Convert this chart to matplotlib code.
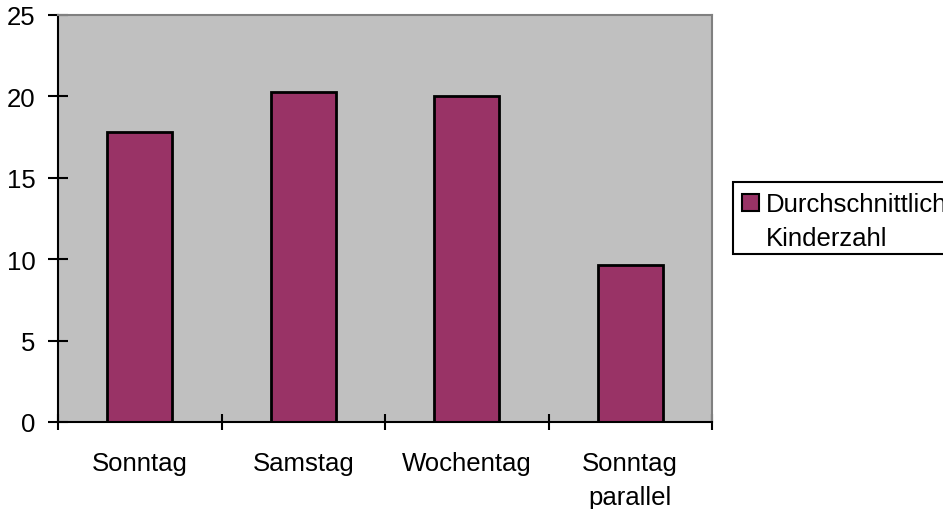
import matplotlib.pyplot as plt
from matplotlib.patches import Rectangle
import numpy as np

plt.rcParams['font.family'] = ['Liberation Sans', 'DejaVu Sans']

kategorien = ["Sonntag", "Samstag", "Wochentag", "Sonntag\nparallel"]
kinderzahl = [17.8, 20.3, 20.0, 9.65]
legende = "Durchschnittliche\nKinderzahl"
y_ticks = [0, 5, 10, 15, 20, 25]

W, H = 943, 510
FS = 18.5
fig = plt.figure(figsize=(W / 100, H / 100), dpi=100)

# Plotbereich in Pixeln
left, right, top, bottom = 58, 712, 16, 423
ax = fig.add_axes([left / W, (H - bottom) / H, (right - left) / W, (bottom - top) / H])
ax.set_facecolor("#C0C0C0")

x = np.arange(len(kategorien))
ax.bar(x, kinderzahl, width=0.4, color="#993366", edgecolor="black", linewidth=2, zorder=2)

ax.set_xlim(-0.5, len(kategorien) - 0.5)
ax.set_ylim(0, 25)
ax.set_yticks(y_ticks)
ax.set_yticklabels([str(t) for t in y_ticks], fontsize=FS)
ax.tick_params(axis="y", direction="inout", length=14, width=1.5, pad=9)

ax.set_xticks(x)
ax.set_xticklabels(kategorien, fontsize=FS, linespacing=1.5, va="top")
ax.tick_params(axis="x", which="major", length=0, pad=21)
ax.set_xticks(np.arange(len(kategorien) + 1) - 0.5, minor=True)
ax.tick_params(axis="x", which="minor", direction="inout", length=12, width=1.5)

for s in ["left", "bottom"]:
    ax.spines[s].set_color("black")
    ax.spines[s].set_linewidth(1.5)
for s in ["top", "right"]:
    ax.spines[s].set_color("#808080")
    ax.spines[s].set_linewidth(1.5)

# Legende rechts, läuft über den Bildrand hinaus
def px(xp, yp):
    return xp / W, (H - yp) / H

bx, by = px(733, 255)
fig.patches.append(Rectangle((bx, by), (960 - 733) / W, (255 - 183) / H,
                             transform=fig.transFigure, facecolor="white",
                             edgecolor="black", linewidth=1.5))
mx, my = px(742, 212)
fig.patches.append(Rectangle((mx, my), 17 / W, 17 / H, transform=fig.transFigure,
                             facecolor="#993366", edgecolor="black", linewidth=1.5))
tx, ty = px(766, 222)
fig.text(tx, ty, legende, fontsize=FS, va="center", ha="left", linespacing=1.55)

fig.savefig("out.png", dpi=100)
